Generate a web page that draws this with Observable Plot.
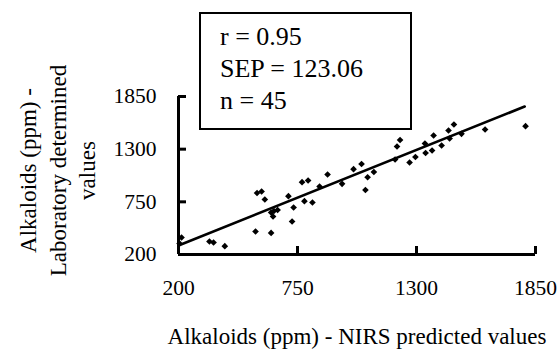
<!DOCTYPE html>
<html>
<head>
<meta charset="utf-8">
<script src="https://cdn.jsdelivr.net/npm/d3@7"></script>
<script src="https://cdn.jsdelivr.net/npm/@observablehq/plot@0.6"></script>
<style>
  html, body { margin: 0; padding: 0; background: #fff; }
  #wrap { position: relative; width: 560px; height: 351px; font-family: "Liberation Serif", "Times New Roman", serif; color: #000; }
  #stats { position: absolute; left: 199px; top: 12px; width: 213px; height: 118px; box-sizing: border-box;
           border: 2px solid #000; background: #fff; font-size: 26px; line-height: 32px; padding: 7px 0 0 19px; white-space: nowrap; }
</style>
</head>
<body>
<div id="wrap"><div id="stats"></div></div>
<script>
// ---- data ----
const xTicks = [200, 750, 1300, 1850];
const yTicks = [200, 750, 1300, 1850];
const nirs = [205, 214, 343, 362, 414, 556, 563, 584, 599, 628, 628, 637, 658, 641, 708,
              725, 732, 771, 799, 782, 819, 852, 889, 956, 1009, 1046, 1074, 1064, 1103, 1201,
              1210, 1224, 1268, 1295, 1339, 1342, 1372, 1379, 1416, 1453, 1448, 1473, 1508, 1617, 1804];
const lab  = [315, 378, 336, 325, 287, 440, 842, 858, 774, 425, 639, 597, 665, 654, 809,
              545, 691, 955, 973, 757, 743, 910, 1035, 938, 1091, 1145, 1007, 874, 1062, 1192,
              1328, 1396, 1161, 1218, 1359, 1260, 1286, 1443, 1338, 1411, 1495, 1558, 1460, 1505, 1540];
const lineX = [200, 1800];
const lineY = [294, 1745];
const statsLines = ["r = 0.95", "SEP = 123.06", "n = 45"];
const xTitle = "Alkaloids (ppm) - NIRS predicted values";
const yTitleLines = ["Alkaloids (ppm) -", "Laboratory determined", "values"];

const plot = Plot.plot({
  width: 560,
  height: 351,
  marginLeft: 178,
  marginRight: 25,
  marginTop: 96,
  marginBottom: 97,
  style: { fontFamily: "'Liberation Serif', 'Times New Roman', serif", background: "white", color: "black" },
  x: { domain: [200, 1850] },
  y: { domain: [200, 1850] },
  marks: [
    Plot.axisX(xTicks, { tickSize: 0, tickPadding: 25, fontSize: 21.5, label: null, tickFormat: d => String(d) }),
    Plot.axisY(yTicks, { tickSize: 0, tickPadding: 22, fontSize: 21.5, label: null, tickFormat: d => String(d) }),
    Plot.ruleX(xTicks, { x: d => d, y1: 200, y2: 200, insetBottom: 8, strokeWidth: 3 }),
    Plot.ruleY(yTicks, { y: d => d, x1: 200, x2: 200, insetRight: -8, strokeWidth: 3 }),
    Plot.ruleY([200], { strokeWidth: 3 }),
    Plot.ruleX([200], { strokeWidth: 3 }),
    Plot.line(lineX, { x: lineX, y: lineY, stroke: "black", strokeWidth: 2.6 }),
    Plot.dot(nirs, { x: nirs, y: lab, symbol: "diamond2", r: 3, fill: "black", stroke: "none" }),
    Plot.text([xTitle], { frameAnchor: "bottom", dy: 89, fontSize: 23, fill: "black" }),
    Plot.text([yTitleLines.join("\n")], { frameAnchor: "left", textAnchor: "middle", lineAnchor: "middle", rotate: -90, dx: -122, dy: -5, fontSize: 23, lineHeight: 1.28, fill: "black" })
  ]
});
document.getElementById("wrap").prepend(plot);
document.getElementById("stats").innerHTML = statsLines.map(s => `<div>${s}</div>`).join("");
</script>
</body>
</html>
